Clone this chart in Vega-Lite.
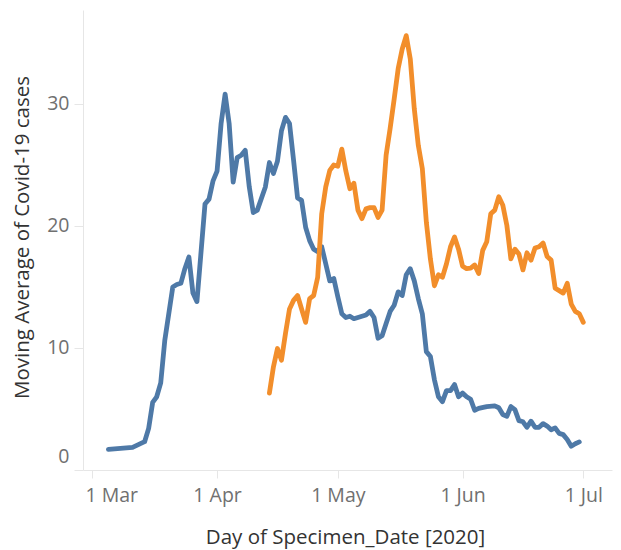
{
  "$schema": "https://vega.github.io/schema/vega-lite/v6.json",
  "width": 529,
  "height": 460,
  "autosize": {"type": "none"},
  "padding": {"left": 83, "top": 10, "right": 9, "bottom": 80},
  "background": "white",
  "config": {
    "view": {"stroke": null},
    "font": "Open Sans",
    "axis": {"grid": false, "domainColor": "#e6e6e6", "tickColor": "#e6e6e6", "labelColor": "#707070", "titleColor": "#333333", "titleFontWeight": "normal", "labelFont": "Open Sans", "titleFont": "Open Sans"}
  },
  "data": {
    "values": [
      {"d": "2020-03-05", "s": "A", "v": 1.69},
      {"d": "2020-03-11", "s": "A", "v": 1.86},
      {"d": "2020-03-14", "s": "A", "v": 2.32},
      {"d": "2020-03-15", "s": "A", "v": 3.41},
      {"d": "2020-03-16", "s": "A", "v": 5.54},
      {"d": "2020-03-17", "s": "A", "v": 6.0},
      {"d": "2020-03-18", "s": "A", "v": 7.14},
      {"d": "2020-03-19", "s": "A", "v": 10.6},
      {"d": "2020-03-21", "s": "A", "v": 15.0},
      {"d": "2020-03-22", "s": "A", "v": 15.2},
      {"d": "2020-03-23", "s": "A", "v": 15.3},
      {"d": "2020-03-24", "s": "A", "v": 16.5},
      {"d": "2020-03-25", "s": "A", "v": 17.45},
      {"d": "2020-03-26", "s": "A", "v": 14.5},
      {"d": "2020-03-27", "s": "A", "v": 13.8},
      {"d": "2020-03-29", "s": "A", "v": 21.8},
      {"d": "2020-03-30", "s": "A", "v": 22.2},
      {"d": "2020-03-31", "s": "A", "v": 23.7},
      {"d": "2020-04-01", "s": "A", "v": 24.5},
      {"d": "2020-04-02", "s": "A", "v": 28.4},
      {"d": "2020-04-03", "s": "A", "v": 30.8},
      {"d": "2020-04-04", "s": "A", "v": 28.4},
      {"d": "2020-04-05", "s": "A", "v": 23.6},
      {"d": "2020-04-06", "s": "A", "v": 25.6},
      {"d": "2020-04-07", "s": "A", "v": 25.8},
      {"d": "2020-04-08", "s": "A", "v": 26.2},
      {"d": "2020-04-09", "s": "A", "v": 23.2},
      {"d": "2020-04-10", "s": "A", "v": 21.1},
      {"d": "2020-04-11", "s": "A", "v": 21.3},
      {"d": "2020-04-13", "s": "A", "v": 23.2},
      {"d": "2020-04-14", "s": "A", "v": 25.2},
      {"d": "2020-04-15", "s": "A", "v": 24.3},
      {"d": "2020-04-16", "s": "A", "v": 25.3},
      {"d": "2020-04-17", "s": "A", "v": 27.8},
      {"d": "2020-04-18", "s": "A", "v": 28.9},
      {"d": "2020-04-19", "s": "A", "v": 28.4},
      {"d": "2020-04-20", "s": "A", "v": 25.4},
      {"d": "2020-04-21", "s": "A", "v": 22.3},
      {"d": "2020-04-22", "s": "A", "v": 22.1},
      {"d": "2020-04-23", "s": "A", "v": 19.9},
      {"d": "2020-04-24", "s": "A", "v": 18.8},
      {"d": "2020-04-25", "s": "A", "v": 18.1},
      {"d": "2020-04-26", "s": "A", "v": 17.9},
      {"d": "2020-04-27", "s": "A", "v": 18.3},
      {"d": "2020-04-28", "s": "A", "v": 16.9},
      {"d": "2020-04-29", "s": "A", "v": 15.5},
      {"d": "2020-04-30", "s": "A", "v": 15.7},
      {"d": "2020-05-01", "s": "A", "v": 14.2},
      {"d": "2020-05-02", "s": "A", "v": 12.8},
      {"d": "2020-05-03", "s": "A", "v": 12.5},
      {"d": "2020-05-04", "s": "A", "v": 12.6},
      {"d": "2020-05-05", "s": "A", "v": 12.4},
      {"d": "2020-05-06", "s": "A", "v": 12.5},
      {"d": "2020-05-08", "s": "A", "v": 12.7},
      {"d": "2020-05-09", "s": "A", "v": 13.0},
      {"d": "2020-05-10", "s": "A", "v": 12.5},
      {"d": "2020-05-11", "s": "A", "v": 10.8},
      {"d": "2020-05-12", "s": "A", "v": 11.0},
      {"d": "2020-05-13", "s": "A", "v": 12.0},
      {"d": "2020-05-14", "s": "A", "v": 13.0},
      {"d": "2020-05-15", "s": "A", "v": 13.5},
      {"d": "2020-05-16", "s": "A", "v": 14.6},
      {"d": "2020-05-17", "s": "A", "v": 14.3},
      {"d": "2020-05-18", "s": "A", "v": 16.0},
      {"d": "2020-05-19", "s": "A", "v": 16.5},
      {"d": "2020-05-20", "s": "A", "v": 15.5},
      {"d": "2020-05-21", "s": "A", "v": 14.05},
      {"d": "2020-05-22", "s": "A", "v": 12.8},
      {"d": "2020-05-23", "s": "A", "v": 9.7},
      {"d": "2020-05-24", "s": "A", "v": 9.3},
      {"d": "2020-05-25", "s": "A", "v": 7.4},
      {"d": "2020-05-26", "s": "A", "v": 6.0},
      {"d": "2020-05-27", "s": "A", "v": 5.6},
      {"d": "2020-05-28", "s": "A", "v": 6.5},
      {"d": "2020-05-29", "s": "A", "v": 6.5},
      {"d": "2020-05-30", "s": "A", "v": 7.0},
      {"d": "2020-05-31", "s": "A", "v": 6.0},
      {"d": "2020-06-01", "s": "A", "v": 6.3},
      {"d": "2020-06-02", "s": "A", "v": 6.0},
      {"d": "2020-06-03", "s": "A", "v": 5.8},
      {"d": "2020-06-04", "s": "A", "v": 4.9},
      {"d": "2020-06-05", "s": "A", "v": 5.05},
      {"d": "2020-06-07", "s": "A", "v": 5.2},
      {"d": "2020-06-09", "s": "A", "v": 5.26},
      {"d": "2020-06-10", "s": "A", "v": 5.1},
      {"d": "2020-06-11", "s": "A", "v": 4.55},
      {"d": "2020-06-12", "s": "A", "v": 4.4},
      {"d": "2020-06-13", "s": "A", "v": 5.2},
      {"d": "2020-06-14", "s": "A", "v": 4.95},
      {"d": "2020-06-15", "s": "A", "v": 4.05},
      {"d": "2020-06-16", "s": "A", "v": 3.95},
      {"d": "2020-06-17", "s": "A", "v": 3.5},
      {"d": "2020-06-18", "s": "A", "v": 4.0},
      {"d": "2020-06-19", "s": "A", "v": 3.5},
      {"d": "2020-06-20", "s": "A", "v": 3.5},
      {"d": "2020-06-21", "s": "A", "v": 3.8},
      {"d": "2020-06-22", "s": "A", "v": 3.6},
      {"d": "2020-06-23", "s": "A", "v": 3.3},
      {"d": "2020-06-24", "s": "A", "v": 3.45},
      {"d": "2020-06-25", "s": "A", "v": 3.0},
      {"d": "2020-06-26", "s": "A", "v": 2.9},
      {"d": "2020-06-27", "s": "A", "v": 2.5},
      {"d": "2020-06-28", "s": "A", "v": 1.95},
      {"d": "2020-06-29", "s": "A", "v": 2.15},
      {"d": "2020-06-30", "s": "A", "v": 2.3},
      {"d": "2020-04-14", "s": "B", "v": 6.3},
      {"d": "2020-04-15", "s": "B", "v": 8.45},
      {"d": "2020-04-16", "s": "B", "v": 9.96},
      {"d": "2020-04-17", "s": "B", "v": 9.0},
      {"d": "2020-04-18", "s": "B", "v": 11.2},
      {"d": "2020-04-19", "s": "B", "v": 13.2},
      {"d": "2020-04-20", "s": "B", "v": 13.9},
      {"d": "2020-04-21", "s": "B", "v": 14.3},
      {"d": "2020-04-22", "s": "B", "v": 13.2},
      {"d": "2020-04-23", "s": "B", "v": 12.1},
      {"d": "2020-04-24", "s": "B", "v": 14.05},
      {"d": "2020-04-25", "s": "B", "v": 14.3},
      {"d": "2020-04-26", "s": "B", "v": 15.8},
      {"d": "2020-04-27", "s": "B", "v": 21.0},
      {"d": "2020-04-28", "s": "B", "v": 23.2},
      {"d": "2020-04-29", "s": "B", "v": 24.55},
      {"d": "2020-04-30", "s": "B", "v": 25.0},
      {"d": "2020-05-01", "s": "B", "v": 24.9},
      {"d": "2020-05-02", "s": "B", "v": 26.3},
      {"d": "2020-05-03", "s": "B", "v": 24.5},
      {"d": "2020-05-04", "s": "B", "v": 23.05},
      {"d": "2020-05-05", "s": "B", "v": 23.5},
      {"d": "2020-05-06", "s": "B", "v": 21.3},
      {"d": "2020-05-07", "s": "B", "v": 20.6},
      {"d": "2020-05-08", "s": "B", "v": 21.4},
      {"d": "2020-05-09", "s": "B", "v": 21.5},
      {"d": "2020-05-10", "s": "B", "v": 21.5},
      {"d": "2020-05-11", "s": "B", "v": 20.7},
      {"d": "2020-05-12", "s": "B", "v": 21.3},
      {"d": "2020-05-13", "s": "B", "v": 25.8},
      {"d": "2020-05-14", "s": "B", "v": 28.0},
      {"d": "2020-05-15", "s": "B", "v": 30.4},
      {"d": "2020-05-16", "s": "B", "v": 32.9},
      {"d": "2020-05-17", "s": "B", "v": 34.5},
      {"d": "2020-05-18", "s": "B", "v": 35.6},
      {"d": "2020-05-19", "s": "B", "v": 33.7},
      {"d": "2020-05-20", "s": "B", "v": 29.6},
      {"d": "2020-05-21", "s": "B", "v": 26.6},
      {"d": "2020-05-22", "s": "B", "v": 24.7},
      {"d": "2020-05-23", "s": "B", "v": 20.3},
      {"d": "2020-05-24", "s": "B", "v": 17.3},
      {"d": "2020-05-25", "s": "B", "v": 15.1},
      {"d": "2020-05-26", "s": "B", "v": 16.0},
      {"d": "2020-05-27", "s": "B", "v": 15.8},
      {"d": "2020-05-28", "s": "B", "v": 16.9},
      {"d": "2020-05-29", "s": "B", "v": 18.3},
      {"d": "2020-05-30", "s": "B", "v": 19.1},
      {"d": "2020-05-31", "s": "B", "v": 18.1},
      {"d": "2020-06-01", "s": "B", "v": 16.7},
      {"d": "2020-06-02", "s": "B", "v": 16.5},
      {"d": "2020-06-03", "s": "B", "v": 16.55},
      {"d": "2020-06-04", "s": "B", "v": 16.8},
      {"d": "2020-06-05", "s": "B", "v": 16.1},
      {"d": "2020-06-06", "s": "B", "v": 18.0},
      {"d": "2020-06-07", "s": "B", "v": 18.7},
      {"d": "2020-06-08", "s": "B", "v": 21.0},
      {"d": "2020-06-09", "s": "B", "v": 21.3},
      {"d": "2020-06-10", "s": "B", "v": 22.4},
      {"d": "2020-06-11", "s": "B", "v": 21.7},
      {"d": "2020-06-12", "s": "B", "v": 20.05},
      {"d": "2020-06-13", "s": "B", "v": 17.3},
      {"d": "2020-06-14", "s": "B", "v": 18.1},
      {"d": "2020-06-15", "s": "B", "v": 17.7},
      {"d": "2020-06-16", "s": "B", "v": 16.4},
      {"d": "2020-06-17", "s": "B", "v": 17.8},
      {"d": "2020-06-18", "s": "B", "v": 17.2},
      {"d": "2020-06-19", "s": "B", "v": 18.2},
      {"d": "2020-06-20", "s": "B", "v": 18.3},
      {"d": "2020-06-21", "s": "B", "v": 18.6},
      {"d": "2020-06-22", "s": "B", "v": 17.5},
      {"d": "2020-06-23", "s": "B", "v": 17.2},
      {"d": "2020-06-24", "s": "B", "v": 14.9},
      {"d": "2020-06-25", "s": "B", "v": 14.7},
      {"d": "2020-06-26", "s": "B", "v": 14.5},
      {"d": "2020-06-27", "s": "B", "v": 15.3},
      {"d": "2020-06-28", "s": "B", "v": 13.6},
      {"d": "2020-06-29", "s": "B", "v": 13.0},
      {"d": "2020-06-30", "s": "B", "v": 12.8},
      {"d": "2020-07-01", "s": "B", "v": 12.1}
    ]
  },
  "mark": {"type": "line", "strokeWidth": 4.8, "strokeCap": "round", "strokeJoin": "round"},
  "encoding": {
    "x": {
      "field": "d",
      "type": "temporal",
      "title": "Day of Specimen_Date [2020]",
      "scale": {
        "type": "utc",
        "domain": [
          {"year": 2020, "month": 2, "date": 27, "hours": 16, "minutes": 30, "utc": true},
          {"year": 2020, "month": 7, "date": 8, "hours": 3, "utc": true}
        ]
      },
      "axis": {
        "values": [
          {"year": 2020, "month": 3, "date": 1, "utc": true},
          {"year": 2020, "month": 4, "date": 1, "utc": true},
          {"year": 2020, "month": 5, "date": 1, "utc": true},
          {"year": 2020, "month": 6, "date": 1, "utc": true},
          {"year": 2020, "month": 7, "date": 1, "utc": true}
        ],
        "labelExpr": "utcFormat(datum.value, '%-d %b')",
        "labelFlush": false,
        "labelFontSize": 19.5,
        "labelPadding": 8,
        "labelOffset": {"condition": {"test": "utcmonth(datum.value) == 2", "value": 19}, "value": 0},
        "tickSize": 8,
        "titleFontSize": 20.5,
        "titleX": 262,
        "titleY": 67,
        "titleBaseline": "middle",
        "titleAlign": "center"
      }
    },
    "y": {
      "field": "v",
      "type": "quantitative",
      "title": "Moving Average of Covid-19 cases",
      "scale": {"domain": [0, 37.7], "nice": false, "zero": true},
      "axis": {
        "values": [0, 10, 20, 30],
        "labelFontSize": 19.5,
        "labelPadding": 5,
        "tickSize": 9,
        "labelFlush": false,
        "labelOffset": {"condition": {"test": "datum.value == 0", "value": -14}, "value": 0},
        "titleFontSize": 20.5,
        "titleX": -61,
        "titleY": 227,
        "titleAngle": -90,
        "titleBaseline": "middle",
        "titleAlign": "center"
      }
    },
    "color": {
      "field": "s",
      "type": "nominal",
      "scale": {"domain": ["A", "B"], "range": ["#4e79a7", "#f28e2b"]},
      "legend": null
    }
  }
}
